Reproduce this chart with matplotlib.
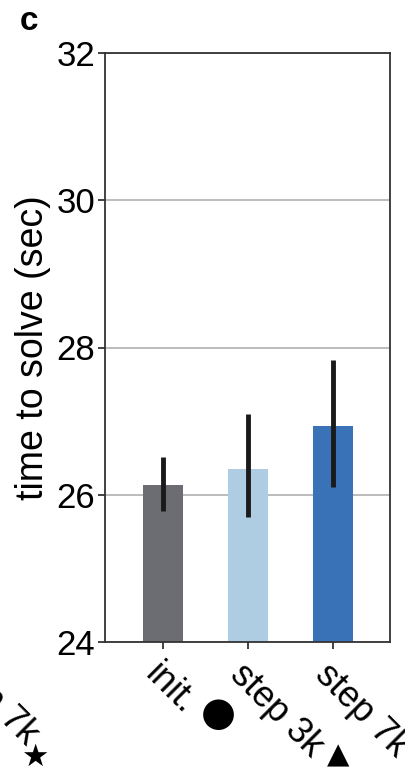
import matplotlib.pyplot as plt
import numpy as np

plt.rcParams['font.family'] = ['Liberation Sans', 'DejaVu Sans']

# data
labels = ['init.', 'step 3k', 'step 7k']
markers = ['\u25cf', '\u25b2', '\u2605']
means = [26.13, 26.35, 26.93]
err_lo = [25.78, 25.70, 26.11]
err_hi = [26.51, 27.10, 27.83]
colors = ['#6b6d72', '#aecde2', '#3a72b8']
yticks = [24, 26, 28, 30, 32]

fig = plt.figure(figsize=(4.06, 7.72), dpi=100)
ax = fig.add_axes([105 / 406, 1 - 642 / 772, 285 / 406, 589 / 772])

x = np.arange(len(means))
yerr = [np.array(means) - np.array(err_lo), np.array(err_hi) - np.array(means)]
ax.bar(x, np.array(means) - 24, bottom=24, width=0.47, color=colors, zorder=2)
ax.errorbar(x, means, yerr=yerr, fmt='none', ecolor='#1a1a1a', elinewidth=3.5,
            capsize=0, zorder=3)

ax.set_ylim(24, 32)
ax.set_xlim(-0.68, 2.67)
ax.set_yticks(yticks)
ax.set_yticklabels([str(t) for t in yticks], fontsize=25)
ax.yaxis.grid(True, color='#b0b0b0', linewidth=1.2, zorder=0)
ax.set_axisbelow(True)
ax.set_ylabel('time to solve (sec)', fontsize=27, labelpad=4)

ax.set_xticks(x)
ax.set_xticklabels(labels, fontsize=26, rotation=-45, ha='left', va='top',
                   rotation_mode='anchor')
ax.tick_params(axis='both', direction='out', length=5, width=1.3, color='#333333')
ax.tick_params(axis='y', pad=2)
ax.tick_params(axis='x', pad=6)

for s in ax.spines.values():
    s.set_color('#333333')
    s.set_linewidth(1.3)

# upright marker glyphs at the end of each rotated tick label
msizes = [29, 21, 22]
moffs = [(16, 8), (8, 9), (8, 9)]
fig.canvas.draw()
for lab, m, ms, off in zip(ax.get_xticklabels(), markers, msizes, moffs):
    bb = lab.get_window_extent()
    ax.annotate(m, xy=(bb.x1, bb.y0), xycoords='figure pixels',
                xytext=off, textcoords='offset pixels', family='DejaVu Sans',
                fontsize=ms, ha='center', va='center', annotation_clip=False)

fig.text(20 / 406, 1 - 22 / 772, 'c', fontsize=24, fontweight='bold', va='center')
# fragment of the neighbouring panel's label
fig.text(26 / 406, 1 - 746 / 772, 'step 7k', fontsize=26, rotation=-45,
         ha='right', va='baseline', rotation_mode='anchor')
fig.text(35 / 406, 1 - 757 / 772, '\u2605', fontsize=22, family='DejaVu Sans',
         ha='center', va='center')

fig.savefig('out.png', dpi=100)
